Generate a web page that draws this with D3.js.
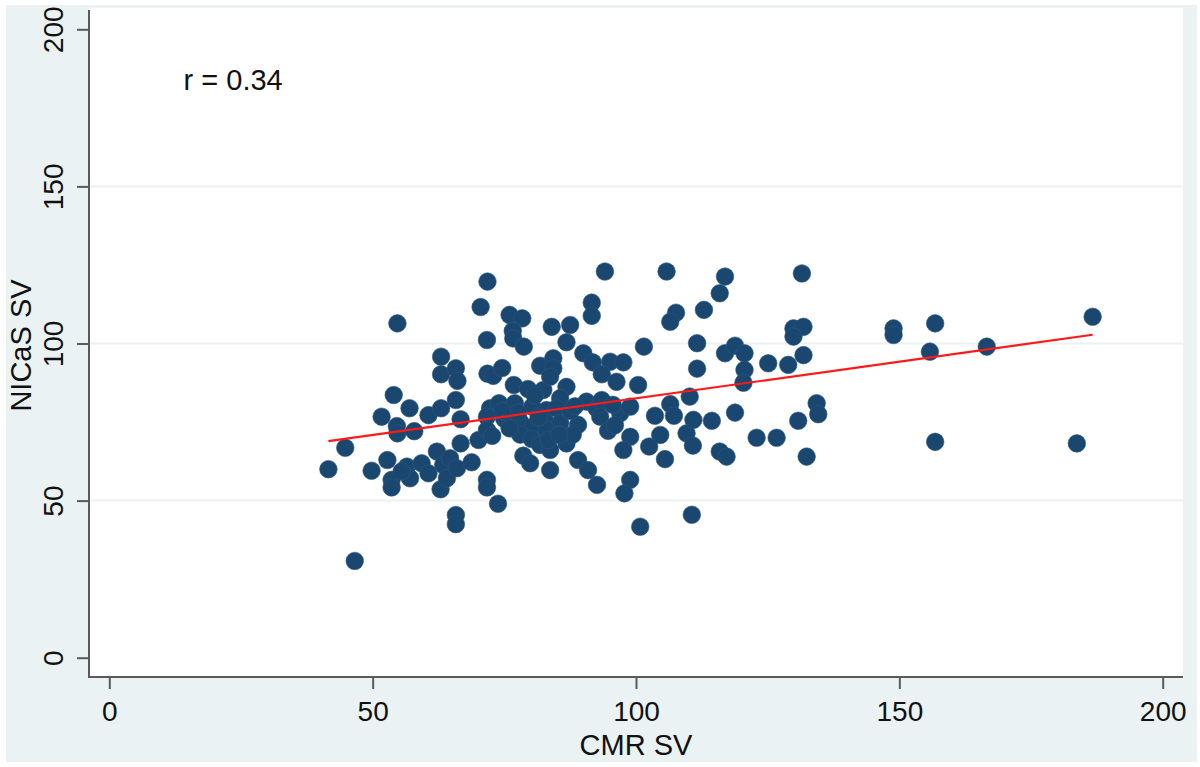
<!DOCTYPE html>
<html>
<head>
<meta charset="utf-8">
<script src="https://cdn.jsdelivr.net/npm/d3@7"></script>
<style>
  html, body { margin: 0; padding: 0; background: #ffffff; }
  svg { display: block; }
  text { font-family: "Liberation Sans", Arial, Helvetica, sans-serif; fill: #111; }
</style>
</head>
<body>
<svg id="chart" width="1200" height="767"></svg>
<script>
// ---- data ----
const cmrSV = [
  41.6, 44.8, 46.6, 49.8, 51.7, 52.8, 53.6, 53.6, 54.0, 54.7,
  54.6, 54.7, 57.0, 57.9, 56.5, 57.1, 55.5, 59.3, 60.6, 60.6,
  63.0, 63.0, 65.8, 66.1, 63.0, 65.8, 66.7, 62.2, 63.4, 64.7,
  62.9, 64.1, 66.0, 66.7, 68.8, 65.8, 65.8, 70.1, 71.8, 70.5,
  76.0, 78.4, 76.6, 76.7, 78.7, 71.7, 71.8, 72.9, 74.6, 76.8,
  79.5, 72.3, 74.0, 77.0, 80.3, 71.7, 78.0, 80.4, 71.7, 72.7,
  78.0, 80.2, 78.6, 79.9, 71.7, 71.7, 73.8, 75.0, 77.6, 82.4,
  84.0, 87.5, 86.8, 81.8, 84.3, 84.3, 83.7, 86.8, 85.6, 83.0,
  84.9, 83.0, 85.6, 83.0, 81.8, 83.7, 86.8, 89.0, 83.7, 89.0,
  83.4, 90.0, 91.8, 91.6, 91.6, 94.1, 95.1, 97.6, 93.5, 96.3,
  90.6, 92.5, 93.5, 93.2, 94.7, 97.0, 98.9, 98.9, 97.6, 90.9,
  92.6, 98.9, 97.8, 100.4, 101.5, 105.8, 107.6, 106.5, 100.8, 106.5,
  103.6, 107.2, 104.6, 102.5, 105.5, 109.6, 110.8, 110.2, 110.9, 110.6,
  111.6, 111.6, 112.9, 115.9, 116.9, 116.9, 118.8, 120.6, 120.6, 120.4,
  118.8, 114.4, 115.9, 117.2, 125.1, 128.9, 131.5, 129.9, 131.8, 129.9,
  131.8, 122.9, 126.7, 130.8, 134.3, 134.6, 132.4, 148.9, 148.9, 156.8,
  155.8, 166.6, 156.8, 183.7, 186.7,
  81.5, 87.6, 88.0, 85.4, 76.0, 74.6, 95.6, 96.0, 80.8, 88.4
];
const nicasSV = [
  60.0, 66.8, 30.8, 59.5, 76.7, 62.9, 56.6, 54.2, 83.6, 106.4,
  73.7, 71.4, 79.4, 72.1, 60.8, 57.1, 59.3, 61.9, 58.7, 77.2,
  95.8, 90.2, 92.1, 88.1, 79.4, 82.0, 75.9, 65.6, 61.3, 63.5,
  53.6, 57.1, 60.3, 68.2, 62.2, 45.4, 42.5, 69.3, 119.7, 111.6,
  109.1, 108.0, 104.0, 101.6, 99.0, 101.1, 90.4, 89.7, 92.2, 86.8,
  85.5, 79.4, 81.0, 81.0, 79.9, 76.7, 75.1, 73.5, 72.5, 70.6,
  71.0, 69.6, 64.3, 61.9, 56.6, 54.2, 49.0, 76.0, 78.0, 85.2,
  105.3, 105.9, 100.4, 92.9, 95.3, 92.1, 89.4, 86.2, 82.6, 78.8,
  79.4, 74.6, 74.6, 72.5, 67.7, 66.1, 68.2, 62.9, 59.7, 74.1,
  69.3, 96.9, 94.0, 113.0, 108.8, 122.9, 94.2, 94.0, 90.2, 87.8,
  81.5, 79.4, 82.0, 76.7, 72.2, 77.8, 79.9, 70.3, 66.1, 59.7,
  55.0, 56.6, 52.3, 86.8, 99.0, 122.9, 109.8, 106.9, 41.7, 80.7,
  77.0, 77.0, 70.9, 67.2, 63.2, 71.4, 67.5, 83.1, 75.7, 45.5,
  100.1, 92.0, 110.7, 116.0, 121.3, 96.9, 99.3, 96.9, 91.6, 87.5,
  78.0, 75.4, 65.6, 64.0, 93.7, 93.2, 122.3, 104.8, 105.3, 102.2,
  96.3, 70.0, 70.0, 75.4, 81.0, 77.5, 64.0, 104.8, 102.7, 106.4,
  97.4, 99.0, 68.7, 68.2, 108.5,
  76.5, 78.5, 71.0, 71.0, 73.0, 78.5, 80.5, 74.0, 83.5, 80.0
];
const xTicks = [0, 50, 100, 150, 200];
const yTicks = [0, 50, 100, 150, 200];
const yGrid = [50, 100, 150];
const fitIntercept = 59.2;
const fitSlope = 0.2335;
const xTitle = "CMR SV";
const yTitle = "NICaS SV";
const corrLabel = "r = 0.34";

// ---- layout ----
const svg = d3.select("#chart");
const navy = "#1a476f";
const panelBg = "#eaf2f3";
const axisColor = "#5a5a5a";
const fontFamily = '"Liberation Sans", Arial, Helvetica, sans-serif';

svg.append("rect").attr("x", 6).attr("y", 5).attr("width", 1191).attr("height", 757).attr("fill", panelBg);

const plotL = 89, plotR = 1183, plotT = 8, plotB = 677;
svg.append("rect").attr("x", plotL).attr("y", plotT).attr("width", plotR - plotL).attr("height", plotB - plotT).attr("fill", "#ffffff");

const x = d3.scaleLinear().domain([0, 200]).range([109.3, 1162.7]);
const y = d3.scaleLinear().domain([0, 200]).range([657.7, 29.3]);

// gridlines
svg.append("g").selectAll("line").data(yGrid).join("line")
  .attr("x1", plotL).attr("x2", plotR)
  .attr("y1", d => y(d)).attr("y2", d => y(d))
  .attr("stroke", panelBg).attr("stroke-width", 2);

// axes
const yAxis = d3.axisLeft(y).tickValues(yTicks).tickSize(12).tickPadding(0).tickFormat(d3.format("d"));
const gy = svg.append("g").attr("transform", `translate(${plotL},0)`).call(yAxis);
gy.select(".domain").remove();
gy.selectAll(".tick line").attr("stroke", axisColor).attr("stroke-width", 2);
gy.selectAll(".tick text")
  .attr("x", null).attr("dy", null)
  .attr("transform", "translate(-26,0) rotate(-90)")
  .attr("text-anchor", "middle")
  .attr("font-size", 28)
  .attr("fill", "#111");

const xAxis = d3.axisBottom(x).tickValues(xTicks).tickSize(12).tickPadding(0).tickFormat(d3.format("d"));
const gx = svg.append("g").attr("transform", `translate(0,${plotB})`).call(xAxis);
gx.select(".domain").remove();
gx.selectAll(".tick line").attr("stroke", axisColor).attr("stroke-width", 2);
gx.selectAll(".tick text")
  .attr("y", 44).attr("dy", null)
  .attr("font-size", 28)
  .attr("fill", "#111");

svg.selectAll(".tick text").style("font-family", fontFamily);

// axis lines
svg.append("line").attr("x1", plotL).attr("x2", plotL).attr("y1", 10).attr("y2", plotB + 1)
  .attr("stroke", axisColor).attr("stroke-width", 2);
svg.append("line").attr("x1", plotL - 1).attr("x2", plotR).attr("y1", plotB).attr("y2", plotB)
  .attr("stroke", axisColor).attr("stroke-width", 2);

// points
const pts = cmrSV.map((v, i) => ({ cx: v, cy: nicasSV[i] }));
svg.append("g").selectAll("circle").data(pts).join("circle")
  .attr("cx", d => x(d.cx)).attr("cy", d => y(d.cy))
  .attr("r", 8.8)
  .attr("fill", navy)
  .attr("stroke", "#2b5880").attr("stroke-width", 0.6);

// fit line
const xMin = d3.min(cmrSV), xMax = d3.max(cmrSV);
const fitPts = [xMin, xMax].map(v => [v, fitIntercept + fitSlope * v]);
svg.append("path")
  .attr("d", d3.line().x(d => x(d[0])).y(d => y(d[1]))(fitPts))
  .attr("stroke", "#ff1a1a").attr("stroke-width", 2.2).attr("fill", "none");

// annotation
svg.append("text").attr("x", x(14.1)).attr("y", 90)
  .attr("font-size", 29).text(corrLabel);

// titles
svg.append("text").attr("x", (plotL + plotR) / 2).attr("y", 755)
  .attr("text-anchor", "middle").attr("font-size", 29).text(xTitle);
svg.append("text").attr("transform", `translate(31,${(10 + plotB) / 2 + 2}) rotate(-90)`)
  .attr("text-anchor", "middle").attr("font-size", 29).text(yTitle);
</script>
</body>
</html>
